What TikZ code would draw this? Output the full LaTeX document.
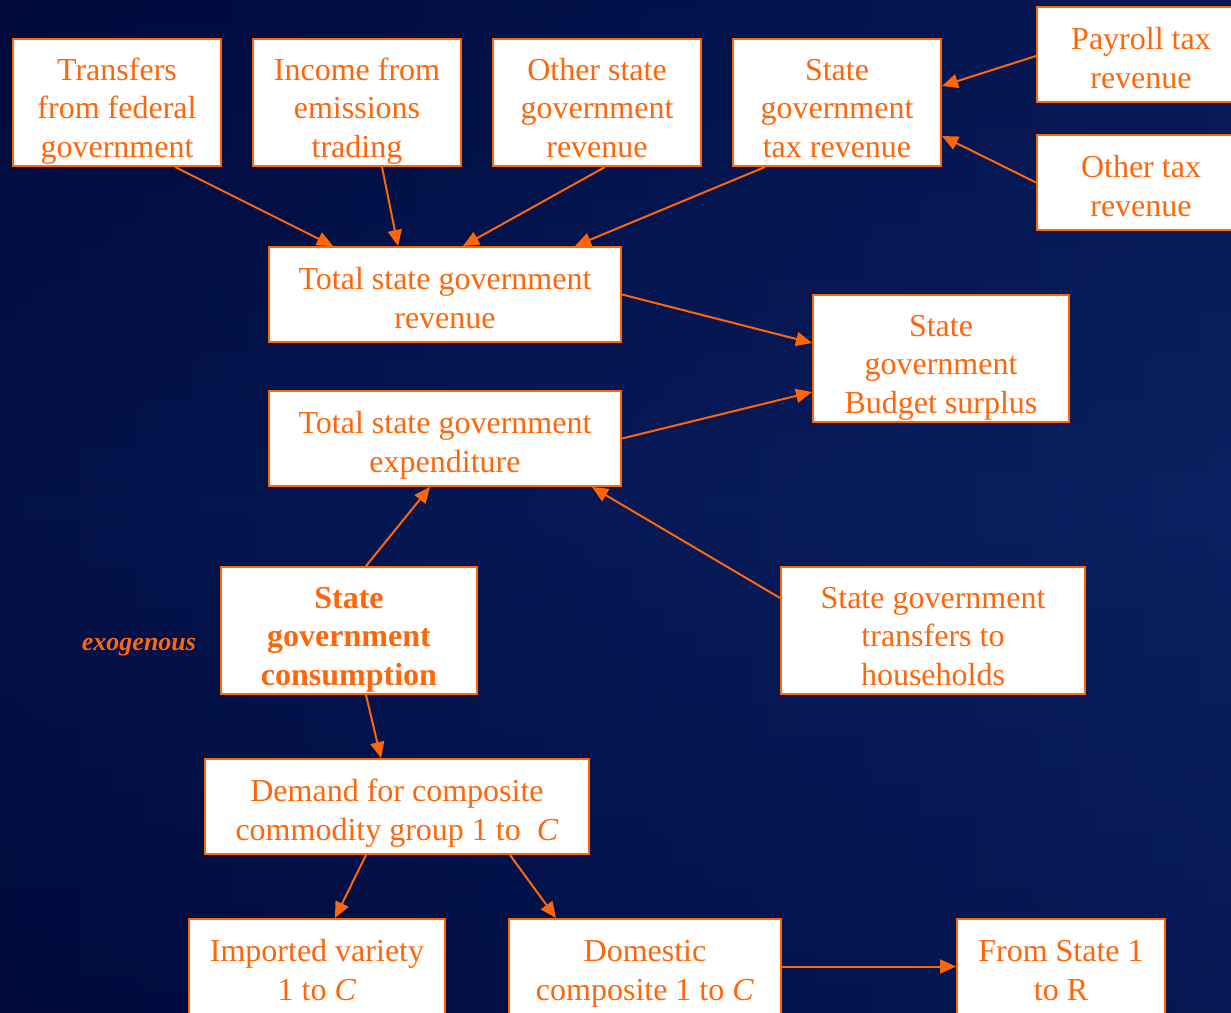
\documentclass[tikz,border=0pt]{standalone}
\usepackage{fontspec}
\setmainfont{Liberation Serif}
\usetikzlibrary{arrows.meta,positioning}
\definecolor{deckorange}{HTML}{FF660A}
\definecolor{navydark}{HTML}{000A3C}
\definecolor{navymid}{HTML}{041550}
\definecolor{navylight}{HTML}{0A2060}
\tikzset{
  box/.style={draw=deckorange, line width=2pt, fill=white, text=deckorange, align=center,
    inner sep=0pt, font=\fontsize{32}{38.5}\selectfont},
  tall/.style={box, minimum height=127pt, text height=116pt, text depth=7pt},
  short/.style={box, minimum height=95pt, text height=74pt, text depth=7pt},
  link/.style={draw=deckorange, line width=2pt, -{Triangle[length=16pt,width=14pt]}},
}

\begin{document}
\begin{tikzpicture}[x=1pt,y=-1pt]
      \useasboundingbox (0,0) rectangle (1231,1012);
      \shade[left color=navydark, right color=navylight, middle color=navymid] (0,0) rectangle (1231,1012);
      \shade[top color=navydark, bottom color=navydark, middle color=navylight, opacity=0.35] (0,0) rectangle (1231,1012);
      \node[tall, minimum width=208pt] at (117,102.5) (fedtransfers) {Transfers\\from federal\\government};
      \node[tall, minimum width=208pt] at (357,102.5) (emissions) {Income from\\emissions\\trading};
      \node[tall, minimum width=208pt] at (597,102.5) (otherrev) {Other state\\government\\revenue};
      \node[tall, minimum width=208pt] at (837,102.5) (taxrev) {State\\government\\tax revenue};
      \node[short, minimum width=208pt] at (1141,54.5) (payroll) {Payroll tax\\revenue};
      \node[short, minimum width=208pt] at (1141,182.5) (othertax) {Other tax\\revenue};
      \node[short, minimum width=352pt] at (445,294.5) (totrev) {Total state government\\revenue};
      \node[tall, minimum width=256pt] at (941,358.5) (surplus) {State\\government\\Budget surplus};
      \node[short, minimum width=352pt] at (445,438.5) (totexp) {Total state government\\expenditure};
      \node[tall, minimum width=256pt, font=\fontsize{32}{38.5}\selectfont\bfseries] at (349,630.5) (consumption) {State\\government\\consumption};
      \node[text=deckorange, font=\fontsize{26}{30}\selectfont\bfseries\itshape] at (139,647) (exog) {exogenous};
      \node[tall, minimum width=304pt] at (933,630.5) (hhtransfers) {State government\\transfers to\\households};
      \node[short, minimum width=384pt] at (397,806.5) (demand) {Demand for composite\\commodity group 1 to \ \textit{C}};
      \node[short, minimum width=256pt] at (317,966.5) (imported) {Imported variety\\1 to \textit{C}};
      \node[short, minimum width=272pt] at (645,966.5) (domestic) {Domestic\\composite 1 to \textit{C}};
      \node[short, minimum width=208pt] at (1061,966.5) (fromstate) {From State 1\\to R};
      \draw[link] ([xshift=58pt]fedtransfers.south) -- ([xshift=-112pt]totrev.north);
      \draw[link] ([xshift=25pt]emissions.south) -- ([xshift=-47pt]totrev.north);
      \draw[link] ([xshift=8pt]otherrev.south) -- ([xshift=18pt]totrev.north);
      \draw[link] ([xshift=-72pt]taxrev.south) -- ([xshift=130pt]totrev.north);
      \draw[link] ([yshift=-1.5pt]payroll.west) -- ([yshift=16.5pt]taxrev.east);
      \draw[link] (othertax.west) -- ([yshift=-33.5pt]taxrev.east);
      \draw[link] (totrev.east) -- ([yshift=15.5pt]surplus.west);
      \draw[link] (totexp.east) -- ([yshift=-33.5pt]surplus.west);
      \draw[link] ([xshift=17pt]consumption.north) -- ([xshift=-15pt]totexp.south);
      \draw[link] ([yshift=32.5pt]hhtransfers.west) -- ([xshift=147pt]totexp.south);
      \draw[link] ([xshift=17pt]consumption.south) -- ([xshift=-16pt]demand.north);
      \draw[link] ([xshift=-31pt]demand.south) -- ([xshift=18pt]imported.north);
      \draw[link] ([xshift=113pt]demand.south) -- ([xshift=-89pt]domestic.north);
      \draw[link] (domestic.east) -- (fromstate.west);
    \end{tikzpicture}
\end{document}
